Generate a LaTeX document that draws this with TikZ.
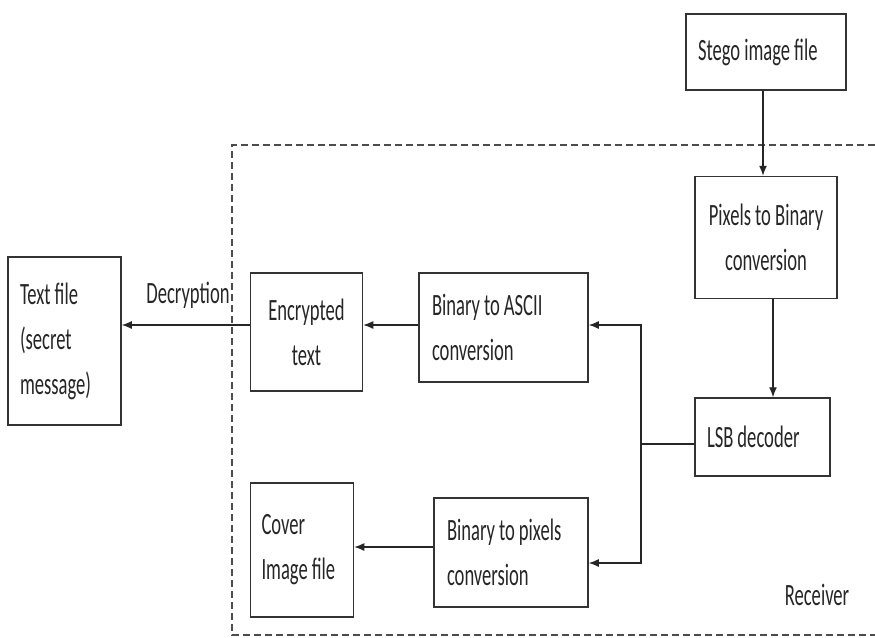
\documentclass[tikz,border=0pt]{standalone}
\usepackage{fontspec}
\setmainfont[FakeStretch=0.6]{Carlito}
\usepackage{xcolor}
\usetikzlibrary{positioning, arrows.meta}

\begin{document}
\begin{tikzpicture}[x=1pt, y=-1pt, node distance=2cm,
	block/.style={rectangle, draw=black!80, line width=1.5pt, inner sep=0pt, text=black!85, font=\fontsize{31}{45}\selectfont, execute at begin node={\spaceskip=4pt plus 1pt minus 1pt\relax}},
	tag/.style={inner sep=0pt, text=black!85, font=\fontsize{31}{45}\selectfont},
	arr/.style={-{Latex[length=10pt, width=8pt]}, line width=1.3pt, draw=black!85}]
		\useasboundingbox (0,0) rectangle (875,637);
		
		% Receiver frame
		\draw [black!70, line width=1.5pt, dash pattern=on 7pt off 4pt] (875,145) -- (232,145) -- (232,635) -- (875,635);
		
		% Nodes
		\node [block, minimum width=160pt, minimum height=76pt, text width=136pt, align=left] (stego) at (766,52) {Stego image file};
		\node [block, minimum width=142pt, minimum height=122pt, text width=130pt, align=center, below=85pt of stego] (pixels) {Pixels to Binary\\conversion};
		\node [block, minimum width=135pt, minimum height=78pt, text width=111pt, align=left, below=98pt of pixels, xshift=-3.5pt] (lsb) {LSB decoder};
		\node [block, minimum width=169pt, minimum height=109pt, text width=143pt, align=left] (ascii) at (503.5,327.5) {Binary to ASCII\\conversion};
		\node [block, minimum width=112pt, minimum height=118pt, text width=100pt, align=center, left=55pt of ascii, yshift=-4.5pt] (encrypted) {Encrypted\\text};
		\node [block, minimum width=113pt, minimum height=168pt, text width=89pt, align=left, left=128pt of encrypted, yshift=-9pt] (textfile) {Text file\\(secret\\message)};
		\node [block, minimum width=154pt, minimum height=109pt, text width=128pt, align=left] (binpix) at (511,552.5) {Binary to pixels\\conversion};
		\node [block, minimum width=103pt, minimum height=134pt, text width=81pt, align=left, left=79pt of binpix, yshift=2.5pt] (cover) {Cover\\Image file};
		\node [tag] (decrypt) at (188,295) {Decryption};
		\node [tag] (receiver) at (817,595) {Receiver};
		\coordinate (split) at (641,444);
		
		% Arrows
		\draw [arr] ([xshift=-3pt]stego.south) -- ([xshift=-3pt]pixels.north);
		\draw [arr] ([xshift=7pt]pixels.south) -- ([xshift=7pt]pixels.south |- lsb.north);
		\draw [line width=1.3pt, black!85] (lsb.west |- split) -- (split);
		\draw [arr] (split) |- ([yshift=2.5pt]ascii.east);
		\draw [arr] (split) |- ([yshift=-10.5pt]binpix.east);
		\draw [arr] ([yshift=2.5pt]ascii.west) -- ([yshift=2.5pt]ascii.west -| encrypted.east);
		\draw [arr] ([yshift=2.5pt]ascii.west -| encrypted.west) -- ([yshift=2.5pt]ascii.west -| textfile.east);
		\draw [arr] ([yshift=5.5pt]binpix.west) -- ([yshift=3pt]cover.east);
	\end{tikzpicture}
\end{document}
